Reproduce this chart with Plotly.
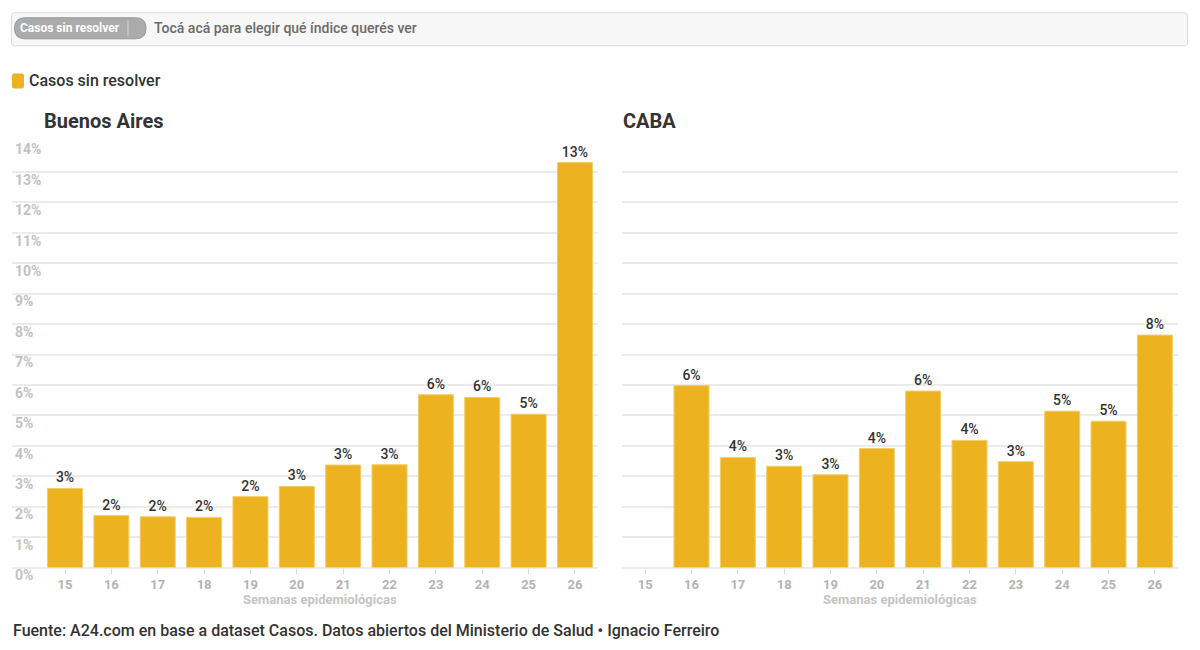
import plotly.graph_objects as go

# ---------------- data ----------------
weeks = ["15", "16", "17", "18", "19", "20", "21", "22", "23", "24", "25", "26"]
buenos_aires = [2.60, 1.71, 1.67, 1.65, 2.33, 2.67, 3.37, 3.38, 5.68, 5.59, 5.04, 13.31]
caba = [None, 5.98, 3.62, 3.33, 3.05, 3.91, 5.80, 4.18, 3.48, 5.14, 4.81, 7.64]
y_tick_values = list(range(0, 15))
series_name = "Casos sin resolver"
panel_titles = ["Buenos Aires", "CABA"]
x_title = "Semanas epidemiológicas"
selector_hint = "Tocá acá para elegir qué índice querés ver"
source_text = ("Fuente: A24.com en base a dataset Casos. Datos abiertos del "
               "Ministerio de Salud • Ignacio Ferreiro")

# ---------------- page geometry ----------------
BODY_MARGIN = 8            # default body margin of the page
PAGE_H = 668               # effective page height that ends up in the 650px picture
V = PAGE_H / 650.0         # picture px -> page px (vertical)
W = 1200 - 2 * BODY_MARGIN
H = PAGE_H - 2 * BODY_MARGIN
FONT = "Roboto"
BAR = "#ecb220"
BAR_EDGE = "#f4cd68"
GRID = "#ebebeb"


def px(x):
    """picture pixel x -> paper fraction"""
    return (x - BODY_MARGIN) / W


def py(y):
    """picture pixel y -> paper fraction"""
    return 1 - (y * V - BODY_MARGIN) / H


def rounded_rect(x0, y0, x1, y1, r):
    pts = [
        f"M {px(x0 + r)},{py(y0)}",
        f"L {px(x1 - r)},{py(y0)}",
        f"Q {px(x1)},{py(y0)} {px(x1)},{py(y0 + r)}",
        f"L {px(x1)},{py(y1 - r)}",
        f"Q {px(x1)},{py(y1)} {px(x1 - r)},{py(y1)}",
        f"L {px(x0 + r)},{py(y1)}",
        f"Q {px(x0)},{py(y1)} {px(x0)},{py(y1 - r)}",
        f"L {px(x0)},{py(y0 + r)}",
        f"Q {px(x0)},{py(y0)} {px(x0 + r)},{py(y0)}",
        "Z",
    ]
    return " ".join(pts)


fig = go.Figure()

for data, xa, ya in [(buenos_aires, "x", "y"), (caba, "x2", "y2")]:
    fig.add_trace(go.Bar(
        x=weeks, y=data, xaxis=xa, yaxis=ya, name=series_name,
        marker=dict(color=BAR, line=dict(color=BAR_EDGE, width=1)),
        texttemplate="%{y:.0f}%", textposition="outside",
        textfont=dict(family=FONT, size=14, color="#333333", weight=500),
        cliponaxis=False, showlegend=False, hoverinfo="x+y",
    ))

# geometry of panels (picture pixels)
y_bottom, y_top = 566, 141
left_x0, left_x1 = 12, 598
left_first_center, step = 65, 46.36
right_x0, right_x1 = 622, 1178

common_y = dict(
    range=[0, 14], tickmode="array", tickvals=y_tick_values,
    ticktext=[f"{v}%" for v in y_tick_values],
    showgrid=True, gridcolor=GRID, gridwidth=2,
    zeroline=True, zerolinecolor=GRID, zerolinewidth=2,
    showline=False, ticks="", fixedrange=True,
    domain=[py(y_bottom), py(y_top)],
)
common_x = dict(
    type="category", showgrid=False, zeroline=False, showline=False,
    ticks="outside", ticklen=5, tickcolor="#dddddd", tickwidth=1,
    tickfont=dict(family=FONT, size=13, color="#b3b3b3", weight=700),
    fixedrange=True,
)

fig.update_layout(
    width=W, height=H, autosize=False,
    margin=dict(l=0, r=0, t=0, b=0),
    paper_bgcolor="white", plot_bgcolor="white",
    bargap=0.245,
    font=dict(family=FONT),
    xaxis=dict(**common_x, domain=[px(left_x0), px(left_x1)],
               range=[(left_x0 - left_first_center) / step,
                      (left_x1 - left_first_center) / step], anchor="y"),
    xaxis2=dict(**common_x, domain=[px(right_x0), px(right_x1)],
                range=[-0.5, 11.5], anchor="y2"),
    yaxis=dict(**common_y, anchor="x", ticklabelposition="inside bottom",
               ticklabeloverflow="allow", ticklabelshift=-2,
               tickfont=dict(family=FONT, size=14, color="#c2c2c2", weight=700)),
    yaxis2=dict(**common_y, anchor="x2", matches="y", showticklabels=False),
)

shapes = []
annotations = []

# selector box at the top
shapes.append(dict(type="path", xref="paper", yref="paper",
                   path=rounded_rect(11.5, 12.5, 1187.5, 45.5, 3),
                   fillcolor="#f7f7f7", line=dict(color="#dcdcdc", width=1),
                   layer="below"))
shapes.append(dict(type="path", xref="paper", yref="paper",
                   path=rounded_rect(14.5, 17.5, 146, 38.5, 10.5),
                   fillcolor="#ababab", line=dict(color="#999999", width=1)))
shapes.append(dict(type="line", xref="paper", yref="paper",
                   x0=px(128), x1=px(128), y0=py(20), y1=py(36),
                   line=dict(color="#d6d6d6", width=1)))
annotations.append(dict(xref="paper", yref="paper", x=px(70), y=py(28),
                        text=series_name, showarrow=False,
                        xanchor="center", yanchor="middle",
                        font=dict(family=FONT, size=12, color="white", weight=700)))
annotations.append(dict(xref="paper", yref="paper", x=px(152), y=py(28),
                        text=selector_hint, showarrow=False,
                        xanchor="left", yanchor="middle",
                        font=dict(family=FONT, size=14, color="#6b6b6b", weight=500)))

# legend
shapes.append(dict(type="path", xref="paper", yref="paper",
                   path=rounded_rect(12, 73, 24, 88, 2),
                   fillcolor=BAR, line=dict(width=0)))
annotations.append(dict(xref="paper", yref="paper", x=px(27), y=py(80.5),
                        text=series_name, showarrow=False,
                        xanchor="left", yanchor="middle",
                        font=dict(family=FONT, size=16, color="#333333", weight=500)))

# panel titles
for title, xpos in zip(panel_titles, [42, 621]):
    annotations.append(dict(xref="paper", yref="paper", x=px(xpos), y=py(121),
                            text=title, showarrow=False,
                            xanchor="left", yanchor="middle",
                            font=dict(family=FONT, size=20, color="#333333", weight=700)))

# x-axis titles
for xpos in [320, 900]:
    annotations.append(dict(xref="paper", yref="paper", x=px(xpos), y=py(598),
                            text=x_title, showarrow=False,
                            xanchor="center", yanchor="middle",
                            font=dict(family=FONT, size=13, color="#c4c4c4", weight=700)))

# source
annotations.append(dict(xref="paper", yref="paper", x=px(11), y=py(629),
                        text=source_text, showarrow=False,
                        xanchor="left", yanchor="middle",
                        font=dict(family=FONT, size=16, color="#333333", weight=500)))

fig.update_layout(shapes=shapes, annotations=annotations)

fig.write_html("out.html", config={"displayModeBar": False})
